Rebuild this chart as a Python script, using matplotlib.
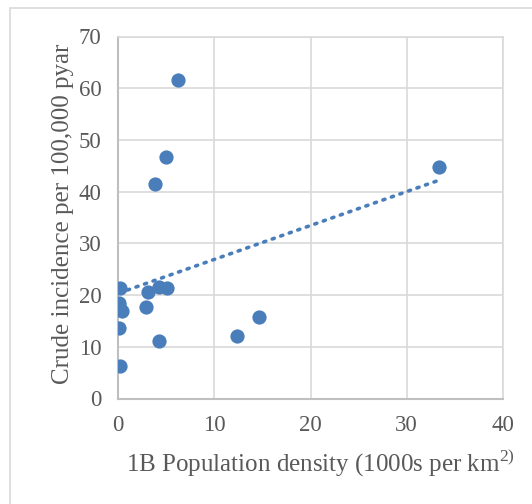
import numpy as np
import matplotlib
matplotlib.use("Agg")
import matplotlib.pyplot as plt
from matplotlib.patches import Rectangle

# data
density = [0.2, 0.14, 0.15, 0.4, 0.1, 0.2, 3.15, 2.9, 4.3, 4.3, 5.1,
           12.4, 14.6, 6.26, 5.0, 3.84, 33.4]
incidence = [21.3, 18.4, 17.8, 17.0, 13.7, 6.2, 20.5, 17.6, 11.1, 21.6, 21.3,
             12.1, 15.8, 61.5, 46.7, 41.5, 44.8]
xticks = [0, 10, 20, 30, 40]
yticks = [0, 10, 20, 30, 40, 50, 60, 70]

blue = "#4A7EBB"
txt = "#595959"
grid = "#D9D9D9"

plt.rcParams['font.family'] = ['Liberation Serif', 'DejaVu Serif']
plt.rcParams['mathtext.fontset'] = 'custom'
plt.rcParams['mathtext.rm'] = 'Liberation Serif'

fig = plt.figure(figsize=(5.32, 5.04), dpi=100)
# outer chart border
fig.patches.append(Rectangle((10 / 532, -0.1), 1.2, 1.1 - 8 / 504,
                             transform=fig.transFigure, fill=False,
                             edgecolor="#D9D9D9", linewidth=1.2))

ax = fig.add_axes([118 / 532, 105.5 / 504, 385 / 532, 362 / 504])

ax.scatter(density, incidence, s=105, color=blue, zorder=3, linewidths=0)

# linear trendline
x = np.array(density)
k, b = np.polyfit(x, np.array(incidence), 1)
xs = np.array([x.min(), x.max()])
ax.plot(xs, k * xs + b, color=blue, linestyle=(0, (0.6, 1.9)), linewidth=2.6,
        dash_capstyle='round', zorder=2)

ax.set_xlim(0, 40)
ax.set_ylim(0, 70)
ax.set_xticks(xticks)
ax.set_yticks(yticks)
ax.grid(True, color=grid, linewidth=1.2)
ax.set_axisbelow(True)
for s in ['top', 'right']:
    ax.spines[s].set_color(grid)
    ax.spines[s].set_linewidth(1.2)
for s in ['left', 'bottom']:
    ax.spines[s].set_color("#BFBFBF")
    ax.spines[s].set_linewidth(1.5)
ax.tick_params(length=0, labelsize=16.5, labelcolor=txt, pad=12)

ax.set_xlabel("1B Population density (1000s per km$^{2)}$", fontsize=18,
              color=txt, labelpad=8)
ax.xaxis.label.set_x(0.527)
ax.set_ylabel("Crude incidence per 100,000 pyar", fontsize=18, color=txt,
              labelpad=3)
ax.yaxis.label.set_y(0.51)

fig.savefig("out.png", dpi=100)
